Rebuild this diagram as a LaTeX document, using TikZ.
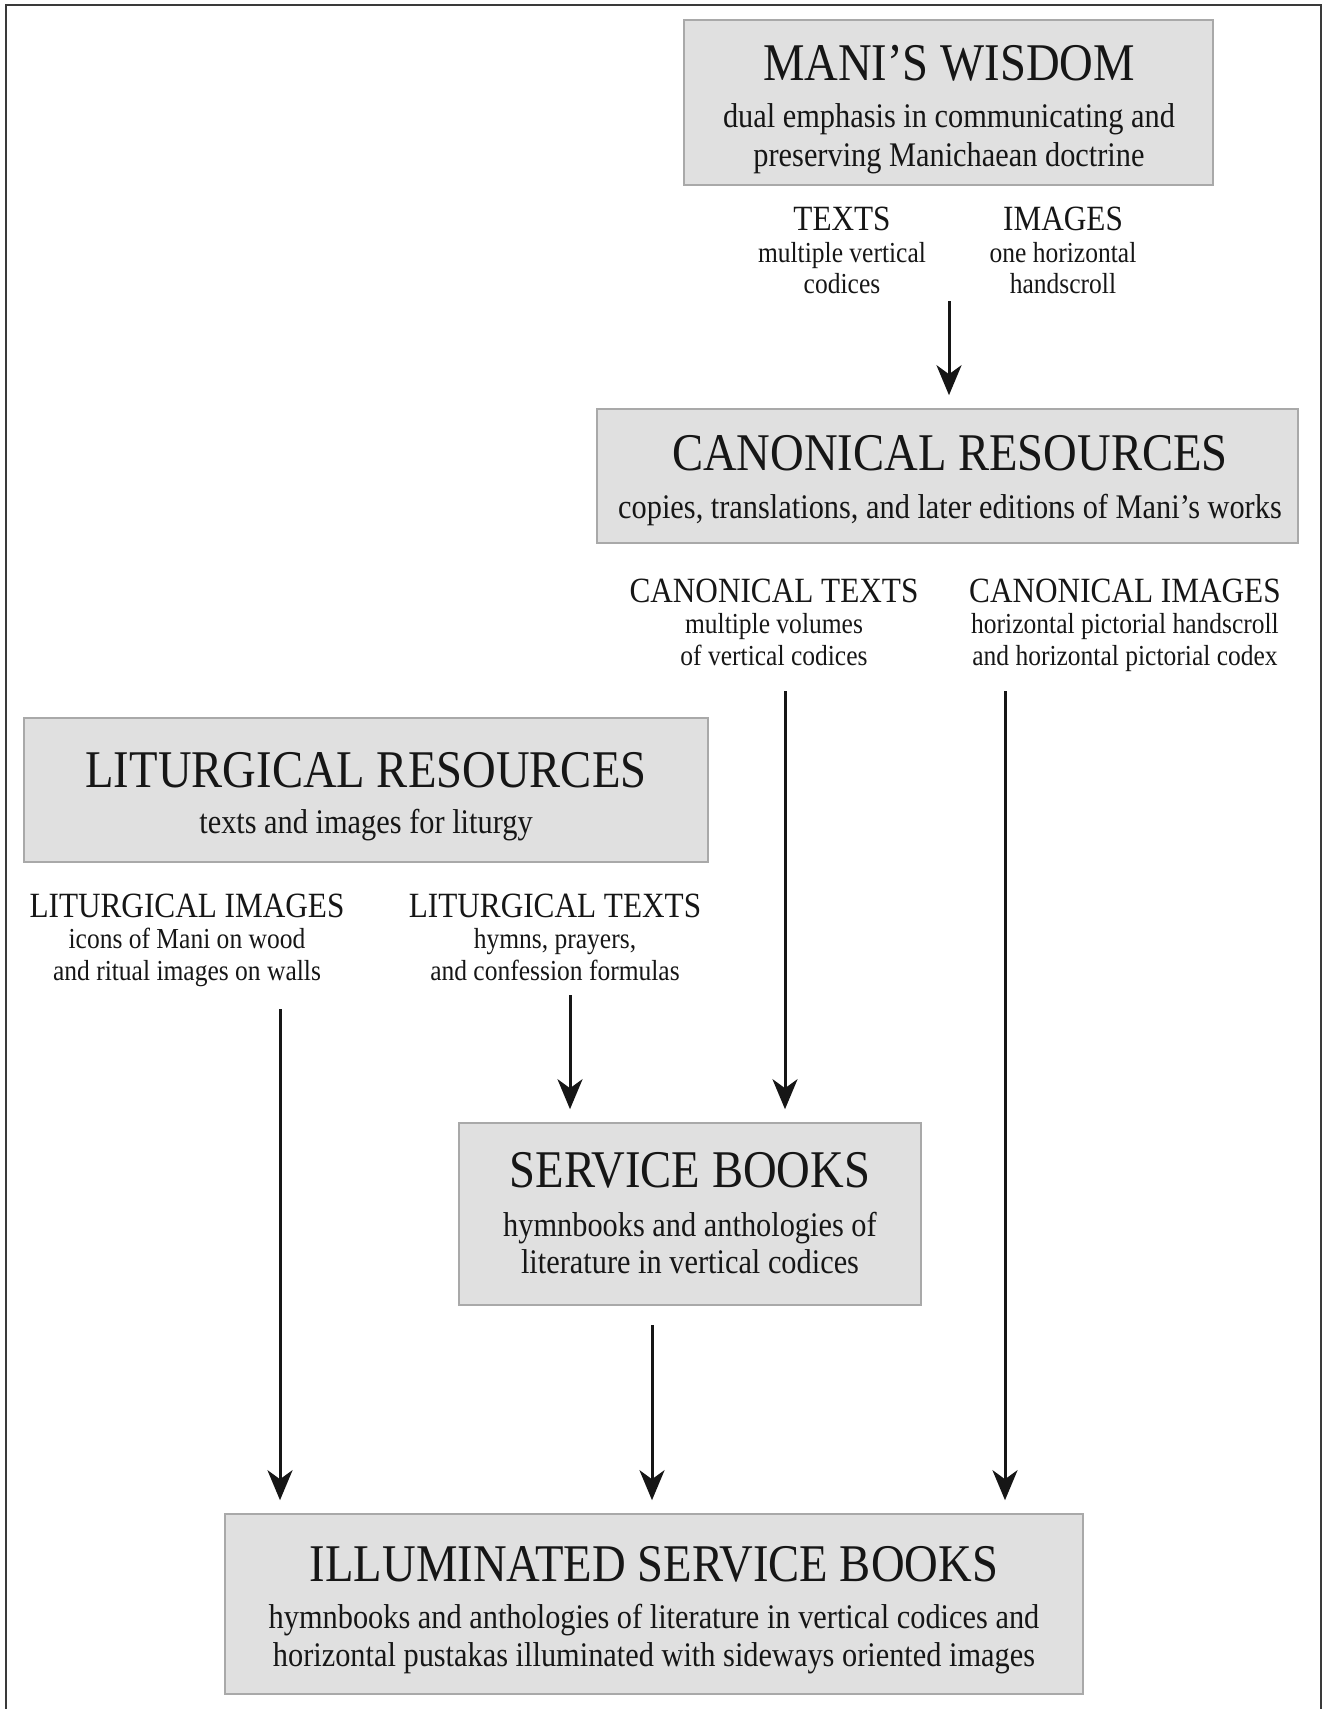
\documentclass[tikz,border=0pt]{standalone}
\usepackage{fontspec}
\setmainfont[FakeStretch=0.88]{Liberation Serif}
\usetikzlibrary{arrows.meta}
\definecolor{boxfill}{HTML}{E0E0E0}
\definecolor{boxline}{HTML}{A9A9A9}
\definecolor{ink}{HTML}{161616}
\definecolor{framecol}{HTML}{3A3A3A}

\begin{document}
\begin{tikzpicture}[x=1pt,y=-1pt,
  box/.style={draw=boxline, fill=boxfill, line width=1.6pt, rectangle, inner sep=0pt},
  boxtitle/.style={anchor=base, inner sep=0pt, text=ink, font=\fontsize{53}{60}\selectfont},
  boxsub/.style={anchor=base, inner sep=0pt, text=ink, font=\fontsize{34.5}{40}\selectfont},
  headtext/.style={anchor=base, inner sep=0pt, text=ink, font=\fontsize{35.5}{40}\selectfont},
  smalltext/.style={anchor=base, inner sep=0pt, text=ink, font=\fontsize{29}{34}\selectfont},
  arr/.style={-{Stealth[length=30pt,width=25pt,inset=9pt]}, line width=3pt, draw=ink, shorten >=13pt}
]
\useasboundingbox (0,0) rectangle (1330,1709);

% outer frame, open at the bottom
\draw[framecol, line width=2pt] (6,1720) -- (6,5) -- (1321,5) -- (1321,1720);

% ---- boxes ----
\node[box, minimum width=529pt, minimum height=165pt] (wisdom)  at (948.5,102.5) {};
\node[box, minimum width=701pt, minimum height=134pt] (canon)   at (947.5,476) {};
\node[box, minimum width=684pt, minimum height=144pt] (litur)   at (366,790) {};
\node[box, minimum width=462pt, minimum height=182pt] (service) at (690,1214) {};
\node[box, minimum width=858pt, minimum height=180pt] (illum)   at (654,1604) {};

% ---- Mani's wisdom ----
\node[boxtitle] (wisdomT) at (949,80) {MANI’S WISDOM};
\node[boxsub] (wisdomS1) at (949,127) {dual emphasis in communicating and};
\node[boxsub] (wisdomS2) at (949,166) {preserving Manichaean doctrine};

\node[headtext]  (textsH)  at (842,230) {TEXTS};
\node[smalltext] (textsA)  at (842,262) {multiple vertical};
\node[smalltext] (textsB)  at (842,293) {codices};
\node[headtext]  (imagesH) at (1063,230) {IMAGES};
\node[smalltext] (imagesA) at (1063,262) {one horizontal};
\node[smalltext] (imagesB) at (1063,293) {handscroll};

% ---- canonical resources ----
\node[boxtitle] (canonT) at (950,470) {CANONICAL RESOURCES};
\node[boxsub] (canonS) at (950,518) {copies, translations, and later editions of Mani’s works};

\node[headtext]  (ctextsH)  at (774,602) {CANONICAL TEXTS};
\node[smalltext] (ctextsA)  at (774,633) {multiple volumes};
\node[smalltext] (ctextsB)  at (774,665) {of vertical codices};
\node[headtext]  (cimagesH) at (1125,602) {CANONICAL IMAGES};
\node[smalltext] (cimagesA) at (1125,633) {horizontal pictorial handscroll};
\node[smalltext] (cimagesB) at (1125,665) {and horizontal pictorial codex};

% ---- liturgical resources ----
\node[boxtitle] (liturT) at (366,787) {LITURGICAL RESOURCES};
\node[boxsub] (liturS) at (366,833) {texts and images for liturgy};

\node[headtext]  (limagesH) at (187,917) {LITURGICAL IMAGES};
\node[smalltext] (limagesA) at (187,948) {icons of Mani on wood};
\node[smalltext] (limagesB) at (187,980) {and ritual images on walls};
\node[headtext]  (ltextsH)  at (555,917) {LITURGICAL TEXTS};
\node[smalltext] (ltextsA)  at (555,948) {hymns, prayers,};
\node[smalltext] (ltextsB)  at (555,980) {and confession formulas};

% ---- service books ----
\node[boxtitle] (serviceT) at (690,1187) {SERVICE BOOKS};
\node[boxsub] (serviceS1) at (690,1236) {hymnbooks and anthologies of};
\node[boxsub] (serviceS2) at (690,1273) {literature in vertical codices};

% ---- illuminated service books ----
\node[boxtitle] (illumT) at (654,1581) {ILLUMINATED SERVICE BOOKS};
\node[boxsub] (illumS1) at (654,1628) {hymnbooks and anthologies of literature in vertical codices and};
\node[boxsub] (illumS2) at (654,1666) {horizontal pustakas illuminated with sideways oriented images};

% ---- arrow starts ----
\coordinate (fromWisdom)   at (949,301);
\coordinate (fromCTexts)   at (785,691);
\coordinate (fromCImages)  at (1005,691);
\coordinate (fromLImages)  at (280,1009);
\coordinate (fromLTexts)   at (570,995);
\coordinate (fromService)  at (652,1325);

% ---- arrows ----
\draw[arr] (fromWisdom)  -- (fromWisdom  |- canon.north);
\draw[arr] (fromCTexts)  -- (fromCTexts  |- service.north);
\draw[arr] (fromLTexts)  -- (fromLTexts  |- service.north);
\draw[arr] (fromCImages) -- (fromCImages |- illum.north);
\draw[arr] (fromLImages) -- (fromLImages |- illum.north);
\draw[arr] (fromService) -- (fromService |- illum.north);
\end{tikzpicture}
\end{document}
